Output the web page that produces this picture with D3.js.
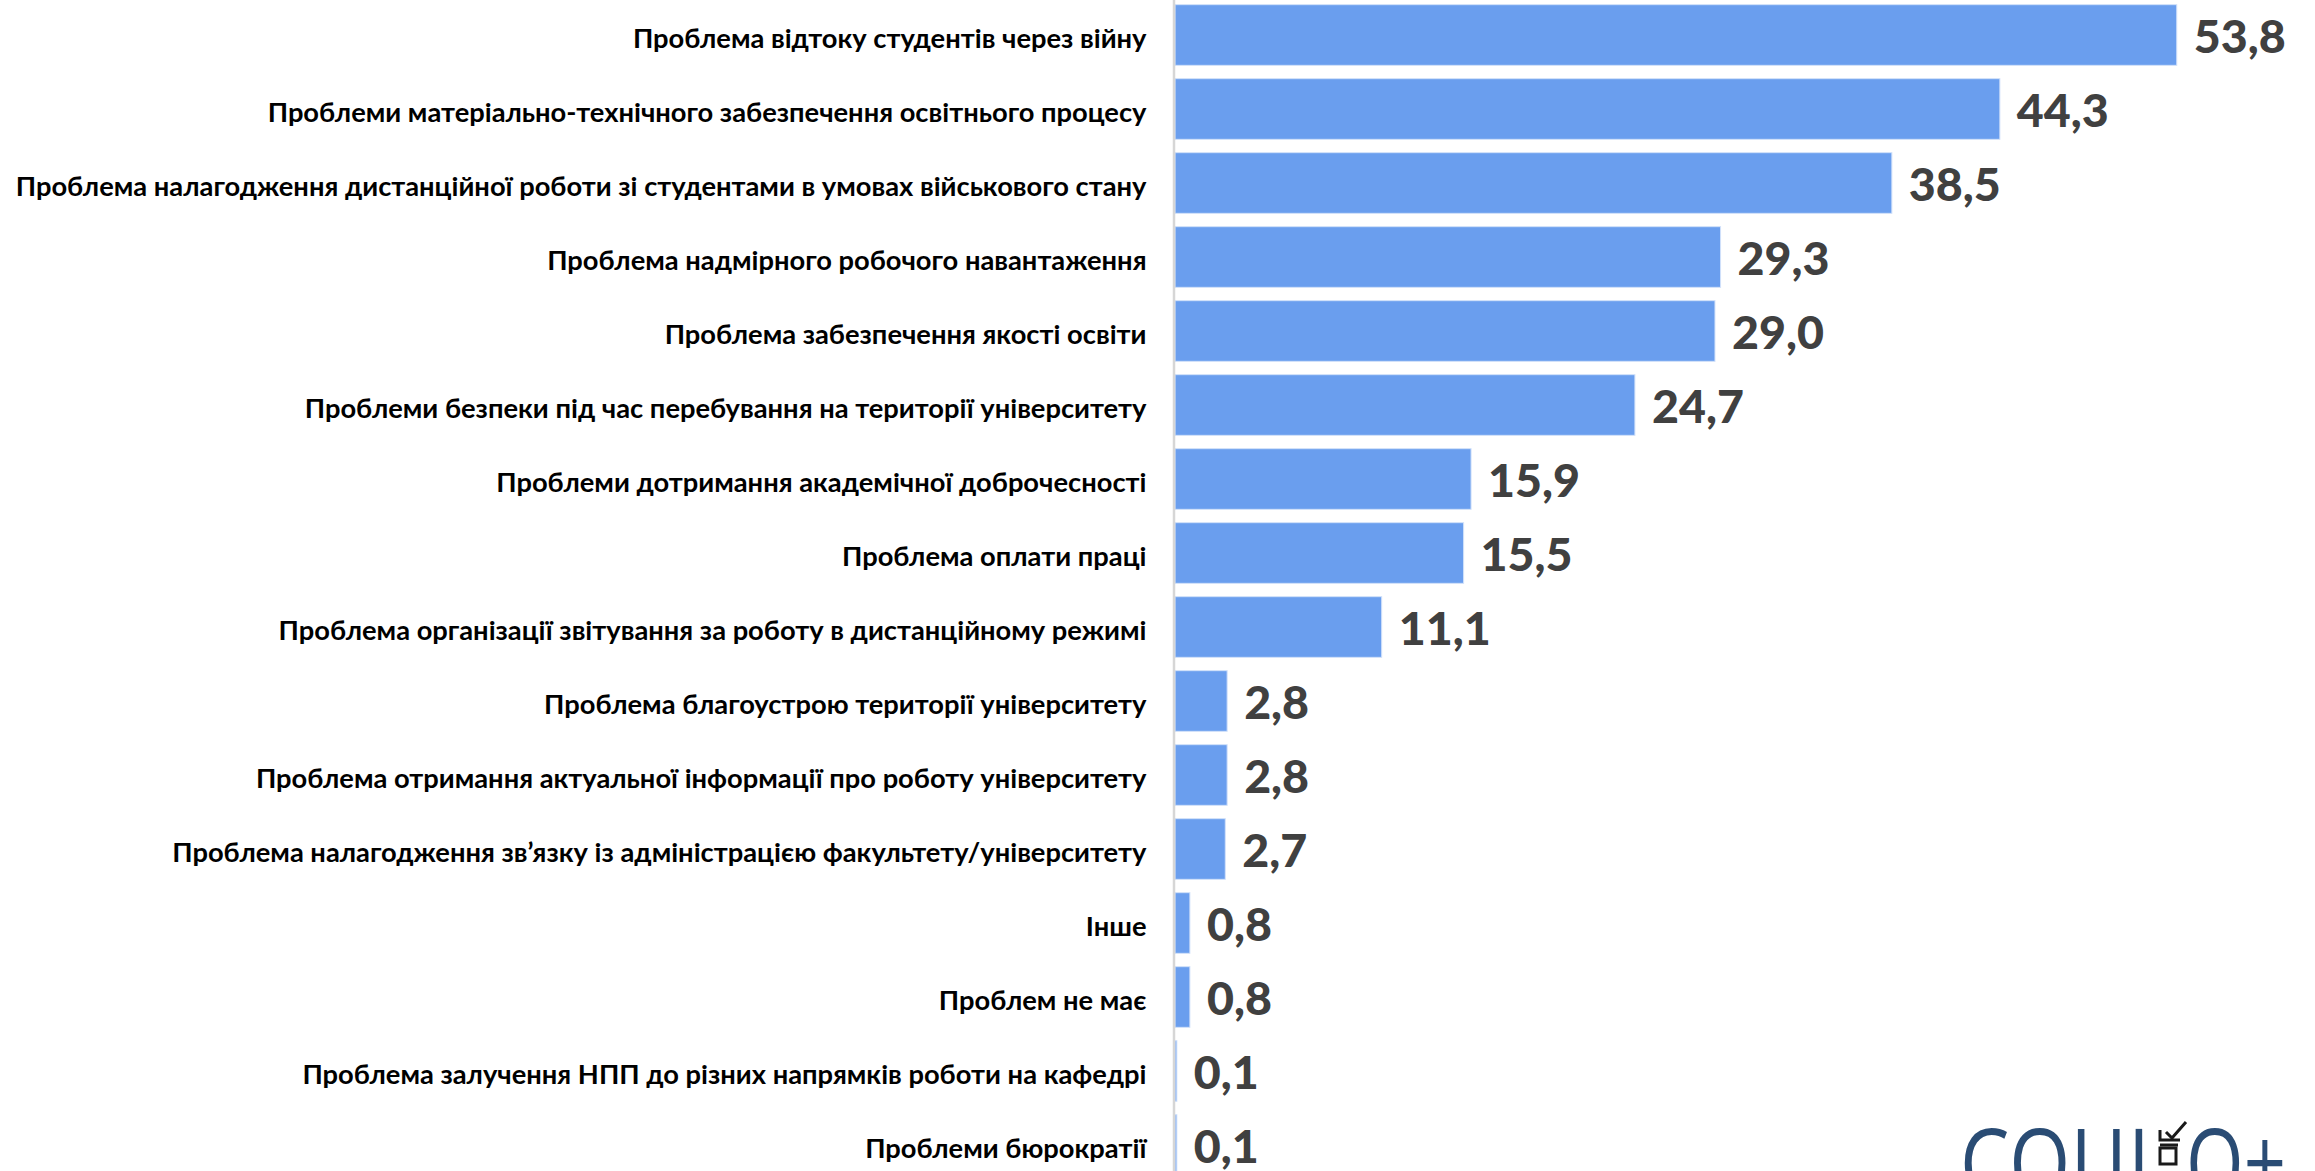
<!DOCTYPE html>
<html>
<head>
<meta charset="utf-8">
<script src="https://cdn.jsdelivr.net/npm/d3@7"></script>
<style>
  html, body { margin: 0; padding: 0; background: #ffffff; overflow: hidden; }
  svg { display: block; }
</style>
</head>
<body>
<svg id="chart" width="2315" height="1171"></svg>
<script>
// ---------------- data ----------------
const categories = [
  "Проблема відтоку студентів через війну",
  "Проблеми матеріально-технічного забезпечення освітнього процесу",
  "Проблема налагодження дистанційної роботи зі студентами в умовах військового стану",
  "Проблема надмірного робочого навантаження",
  "Проблема забезпечення якості освіти",
  "Проблеми безпеки під час перебування на території університету",
  "Проблеми дотримання академічної доброчесності",
  "Проблема оплати праці",
  "Проблема організації звітування за роботу в дистанційному режимі",
  "Проблема благоустрою території університету",
  "Проблема отримання актуальної інформації про роботу університету",
  "Проблема налагодження зв’язку із адміністрацією факультету/університету",
  "Інше",
  "Проблем не має",
  "Проблема залучення НПП до різних напрямків роботи на кафедрі",
  "Проблеми бюрократії"
];
const values = [53.8, 44.3, 38.5, 29.3, 29.0, 24.7, 15.9, 15.5, 11.1, 2.8, 2.8, 2.7, 0.8, 0.8, 0.1, 0.1];
const logoText = ["СОЦІ", "О+"];

// ---------------- layout ----------------
const W = 2315, H = 1171;
const axisX = 1175;
const svg = d3.select("#chart");

const x = d3.scaleLinear().domain([0, 60]).range([axisX, axisX + 60 * 18.62]);
const y = d3.scaleBand().domain(categories).range([-2, -2 + 16 * 74]).paddingInner(0.18).paddingOuter(0.09);

const fontFam = "Lato, 'Open Sans', 'Noto Sans', sans-serif";

// measure helper to fit font size
function fitSize(text, weight, targetW, base) {
  const t = svg.append("text").attr("font-family", fontFam).attr("font-weight", weight)
    .attr("font-size", base).text(text);
  const w = t.node().getComputedTextLength();
  t.remove();
  return base * targetW / w;
}
const catSize = fitSize(categories[2], 700, 1131, 28);
const valSize = fitSize("53,8", 900, 92, 46);

// bars
svg.append("g").selectAll("rect").data(values).join("rect")
  .attr("x", x(0))
  .attr("y", (d, i) => y(categories[i]))
  .attr("width", d => x(d) - x(0))
  .attr("height", y.bandwidth())
  .attr("fill", "#6a9eee")
  .attr("stroke", "#d3e2fa")
  .attr("stroke-width", 1);

// category axis
const axis = d3.axisLeft(y).tickSizeInner(0).tickSizeOuter(0).tickPadding(27);
const gAxis = svg.append("g").attr("transform", `translate(${axisX - 1.5},0)`).call(axis);
gAxis.select(".domain").attr("stroke", "#d6d6d6").attr("stroke-width", 2.5);
gAxis.selectAll(".tick text")
  .attr("font-family", fontFam)
  .attr("font-weight", 700)
  .attr("font-size", catSize)
  .attr("fill", "#000000")
  .attr("dy", null)
  .attr("y", 13)
  .attr("dominant-baseline", "alphabetic");

// value labels
const fmt = d3.format(".1f");
svg.append("g").selectAll("text").data(values).join("text")
  .attr("x", d => x(d) + 17)
  .attr("y", (d, i) => y(categories[i]) + y.bandwidth() / 2 + 18)
  .attr("font-family", fontFam)
  .attr("font-weight", 900)
  .attr("font-size", valSize)
  .attr("fill", "#404040")
  .text(d => fmt(d).replace(".", ","));

// logo (cut off at the bottom, as in the reference)
const logo = svg.append("g").attr("fill", "#2a4c74");
logo.append("text").attr("x", 1960).attr("y", 1197)
  .attr("font-family", "'Open Sans', Lato, sans-serif").attr("font-weight", 400)
  .attr("font-size", 96).attr("textLength", 190).attr("lengthAdjust", "spacingAndGlyphs")
  .text(logoText[0]);
logo.append("text").attr("x", 2186).attr("y", 1197)
  .attr("font-family", "'Open Sans', Lato, sans-serif").attr("font-weight", 400)
  .attr("font-size", 96).attr("textLength", 100).attr("lengthAdjust", "spacingAndGlyphs")
  .text(logoText[1]);
// ballot box mark
const bx = svg.append("g").attr("stroke", "#1a1a1a").attr("fill", "none").attr("stroke-width", 3);
bx.append("path").attr("d", "M2160,1130 L2160,1140 L2180,1140");
bx.append("path").attr("d", "M2166,1132 L2172,1138 L2186,1122");
bx.append("rect").attr("x", 2160).attr("y", 1148).attr("width", 16).attr("height", 16);
bx.append("path").attr("d", "M2160,1145 L2178,1145");
</script>
</body>
</html>
